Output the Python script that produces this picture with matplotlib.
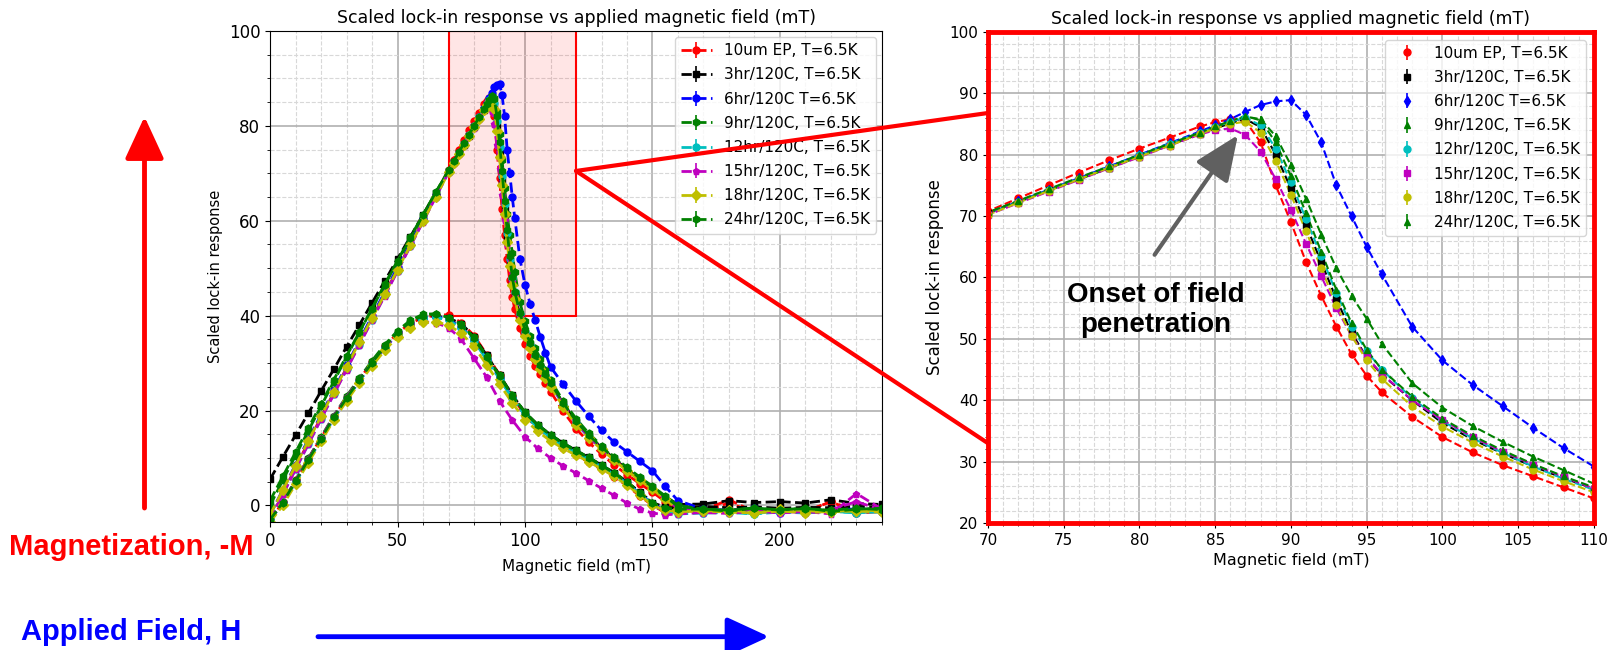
import matplotlib.pyplot as plt
from matplotlib.patches import Rectangle, ConnectionPatch
from matplotlib.ticker import MultipleLocator

# sample labels and classic matplotlib colours
labels = ['10um EP, T=6.5K', '3hr/120C, T=6.5K', '6hr/120C T=6.5K', '9hr/120C, T=6.5K',
          '12hr/120C, T=6.5K', '15hr/120C, T=6.5K', '18hr/120C, T=6.5K', '24hr/120C, T=6.5K']
colors = ['r', 'k', 'b', 'g', 'c', 'm', 'y', 'g']
markers_left = ['o', 's', 'o', 'h', 'o', 'p', 'D', 'h']
markers_right = ['o', 's', 'd', '^', 'o', 's', 'o', '^']

# field sweep up (mT)
field_up = [0, 5, 10, 15, 20, 25, 30, 35, 40, 45, 50, 55, 60, 65,
            70, 72, 74, 76, 78, 80, 82, 84,
            85, 86, 87, 88, 89, 90, 91, 92, 93, 94, 95, 96,
            98, 100, 102, 104, 106, 108, 110,
            115, 120, 125, 130, 135, 140, 145, 150, 155, 160,
            170, 180, 190, 200, 210, 220, 230, 240]
# second sweep
field_down = [0, 5, 10, 15, 20, 25, 30, 35, 40, 45, 50, 55, 60, 65, 70, 75, 80, 85,
              90, 95, 100, 105, 110, 115, 120, 125, 130, 135, 140, 145, 150, 155, 160,
              170, 180, 190, 200, 210, 220, 230, 240]

ep10_up = [-3, 2.5, 8, 13.3, 18.6, 23.8, 29, 34.2, 39.4, 44.6, 49.8, 55, 60.2, 65.5,
           70.8, 72.9, 75, 77.1, 79.1, 81, 82.8, 84.6,
           85.3, 85.8, 85.5, 82, 75, 69, 62.5, 57, 52, 47.5, 44, 41.3,
           37.3, 34, 31.5, 29.4, 27.6, 25.8, 24,
           19.8, 16.2, 13.3, 10.8, 8.5, 6.5, 4.6, 2.8, 0.8, -1,
           -1.2, 0.5, -1.5, -0.8, -1.3, 0.8, -1.5, -1.2]
hr3_up = [5.5, 10.2, 14.8, 19.4, 24.1, 28.7, 33.4, 38, 42.7, 47.3, 52, 56.6, 61.3, 65.9,
          70.5, 72.3, 74.2, 76, 77.9, 79.8, 81.6, 83.4,
          84.3, 85.1, 85.8, 84.5, 80, 74.5, 68.5, 62.5, 56.5, 51, 47, 44.2,
          40, 36.3, 33.6, 31.3, 29.2, 27.3, 25.6,
          21.5, 17.5, 14.6, 12.2, 9.8, 7.6, 5.6, 3.8, 1.8, 0.2,
          0.3, 1, 0.6, 0.8, 0.5, 1.2, 0.4, 0.2]
hr6_up = [-2, 3.3, 8.6, 13.9, 19.1, 24.3, 29.5, 34.7, 39.9, 45, 50.2, 55.3, 60.4, 65.4,
          70.4, 72.4, 74.3, 76.2, 78.1, 80, 81.9, 83.8,
          84.8, 85.8, 87, 88.1, 88.7, 88.9, 86.5, 82, 75, 70, 65, 60.5,
          52, 46.5, 42.5, 39, 35.5, 32.2, 29.2,
          25.5, 22, 18.8, 15.8, 13.3, 11.3, 9.3, 7.3, 4, 1,
          -0.8, -1, -0.6, -1.2, -0.9, -1.1, -0.7, -1]
hr9_up = [0, 5.3, 10.5, 15.7, 20.9, 26.1, 31.3, 36.4, 41.5, 46.6, 51.6, 56.5, 61.3, 66,
          70.6, 72.4, 74.2, 76, 77.8, 79.7, 81.6, 83.5,
          84.5, 85.4, 86.2, 85.8, 83, 78.3, 72.8, 67, 61.5, 57, 53.3, 49.2,
          42.8, 38.8, 35.8, 33.2, 30.8, 28.6, 26.4,
          22, 18.3, 15.2, 12.6, 10.2, 8, 6, 4, 2, 0,
          -0.8, -1, -0.5, -1.2, -0.8, -1, -1.3, -0.6]
hr12_up = [-3, 2.3, 7.6, 12.9, 18.2, 23.5, 28.7, 33.9, 39.1, 44.3, 49.5, 54.7, 59.9, 65.1,
           70.3, 72.3, 74.2, 76.1, 78, 79.9, 81.8, 83.6,
           84.5, 85.4, 86, 84.8, 81, 75.5, 69.5, 63.5, 57.5, 52, 48, 45,
           40.3, 36.6, 33.8, 31.4, 29.2, 27.2, 25.4,
           21.2, 17.3, 14.4, 12, 9.7, 7.5, 5.5, 3.6, 1.5, -0.5,
           -1.5, -1.2, -1.8, -1, -1.4, -1.2, -1.6, -1.1]
hr15_up = [-3, 2.3, 7.6, 12.9, 18.2, 23.4, 28.6, 33.8, 39, 44.2, 49.4, 54.6, 59.8, 65,
           70.2, 72.1, 74, 75.9, 77.8, 79.6, 81.5, 83.3,
           84, 84.3, 83.2, 80.5, 76, 71, 65.5, 60.2, 55, 50.5, 47, 44.3,
           40, 36.8, 34, 31.6, 29.5, 27.5, 25.6,
           21.3, 17.4, 14.5, 12, 9.6, 7.4, 5.4, 3.5, 1.4, -0.6,
           -1, -1.4, -0.8, -1.2, -1.5, -0.9, 0.8, -1]
hr18_up = [-2, 3.2, 8.4, 13.6, 18.8, 24, 29.2, 34.4, 39.5, 44.6, 49.7, 54.8, 59.9, 65,
           70.2, 72.2, 74.1, 76, 77.9, 79.7, 81.5, 83.4,
           84.3, 85, 85.4, 83.6, 79, 73.5, 67.5, 61.5, 55.5, 50.5, 46.5, 43.5,
           39, 35.7, 33.1, 30.8, 28.7, 26.8, 25,
           20.8, 17, 14.2, 11.8, 9.5, 7.3, 5.3, 3.4, 1.3, -0.8,
           -1.2, -1, -1.5, -0.8, -1.1, -1.4, -0.9, -1.2]
hr24_up = [1, 6.1, 11.2, 16.3, 21.4, 26.5, 31.5, 36.5, 41.5, 46.5, 51.4, 56.3, 61.2, 66,
           70.6, 72.5, 74.4, 76.3, 78.1, 80, 81.8, 83.6,
           84.6, 85.5, 86.3, 85.6, 82, 76.5, 70.5, 64.2, 58, 52.6, 48.2, 45,
           40.6, 37, 34.2, 31.8, 29.6, 27.6, 25.8,
           21.6, 17.8, 14.8, 12.3, 10, 7.8, 5.8, 3.9, 1.8, -0.2,
           -0.8, -1.2, -0.6, -1, -0.5, -1.3, -0.8, -0.6]

ep10_down = [-3.5, 0.8, 5.3, 9.8, 14.2, 18.6, 22.7, 26.5, 30.2, 33.5, 36.3, 38.4, 39.6, 40.1, 40.2,
             38.5, 35.8, 31.8, 27.5, 23, 19, 16.2, 14, 12.2, 10.6, 9.1, 7.6, 6, 4.2, 2, 0, -1.5, -1.3,
             -1, 1.2, -1.4, -1.2, -1.5, 1, -1.6, -1.3]
hr3_down = [-3, 0.6, 5.1, 9.6, 14.1, 18.6, 22.6, 26.4, 30.1, 33.4, 36.3, 38.4, 39.6, 39.9, 39.5,
            38.3, 35.6, 31.6, 27.5, 23.3, 19.6, 17, 14.9, 13.1, 11.6, 10.1, 8.5, 6.9, 5, 2.8, 0.6, -0.4, -0.6,
            -0.2, -0.5, -0.3, -0.6, -0.4, -0.5, -0.2, -0.4]
hr6_down = [-3, 0.5, 5, 9.4, 13.9, 18.3, 22.4, 26.2, 29.9, 33.2, 36.1, 38.2, 39.5, 39.8, 39.2,
            37.6, 34.8, 30.8, 26.8, 22.7, 19.1, 16.5, 14.4, 12.7, 11.2, 9.8, 8.2, 6.6, 4.7, 2.5, 0.3, -1, -1.3,
            -1.2, -1.4, -1.1, -1.5, -1.2, -1.3, -1, -1.4]
hr9_down = [-3, 0.7, 5.3, 9.9, 14.4, 18.9, 23, 26.8, 30.5, 33.9, 36.8, 39, 40.3, 40.4, 39.6,
            38.2, 35.4, 31.4, 27.4, 23.3, 19.6, 17, 14.9, 13.1, 11.6, 10.1, 8.5, 6.8, 4.9, 2.7, 0.5, -0.7, -1,
            -1, -1.2, -0.9, -1.3, -1, -1.1, -1.2, -0.9]
hr12_down = [-3, 0.4, 4.9, 9.4, 13.9, 18.4, 22.4, 26.2, 29.9, 33.2, 36.1, 38.2, 39.4, 39.7, 39,
             37.5, 34.7, 30.7, 26.7, 22.6, 19, 16.4, 14.3, 12.6, 11.1, 9.7, 8.1, 6.5, 4.6, 2.4, 0.2, -1.4, -1.8,
             -1.6, -1.5, -1.8, -1.4, -1.6, -1.3, -1.5, -1.4]
hr15_down = [-3, 0.6, 5.2, 9.8, 14.3, 18.8, 22.8, 26.5, 30.1, 33.3, 36.1, 38, 38.7, 38.5, 37.5,
             35, 31, 27, 22, 18, 14.5, 12, 10, 8.3, 6.8, 5.2, 3.6, 2.1, 0.5, -0.8, -1.6, -2, -1.8,
             -1.5, -1.7, -1.2, -1.6, -1.3, -1.8, 2.5, -0.8]
hr18_down = [-3.5, 0, 4.5, 9, 13.5, 18, 22, 25.8, 29.4, 32.7, 35.5, 37.5, 38.6, 38.7, 38,
             36.3, 33.5, 29.6, 25.6, 21.6, 18.1, 15.6, 13.6, 12, 10.6, 9.2, 7.7, 6.1, 4.3, 2.2, 0, -1, -1.3,
             -1.2, -1.4, -1.6, -1.2, -1.5, -1.3, -1.2, -1.4]
hr24_down = [-3, 0.6, 5.1, 9.6, 14.1, 18.6, 22.6, 26.4, 30.1, 33.5, 36.5, 38.7, 40, 40.3, 39.6,
             38, 35.2, 31.2, 27.2, 23.1, 19.5, 16.9, 14.8, 13, 11.5, 10, 8.4, 6.8, 4.9, 2.7, 0.5, -0.6, -0.8,
             -0.8, -1, -0.6, -0.9, -0.7, -1, -0.6, -0.9]

ups = [ep10_up, hr3_up, hr6_up, hr9_up, hr12_up, hr15_up, hr18_up, hr24_up]
downs = [ep10_down, hr3_down, hr6_down, hr9_down, hr12_down, hr15_down, hr18_down, hr24_down]

fig = plt.figure(figsize=(16.18, 6.5), dpi=100)
ax1 = fig.add_axes([0.1669, 0.1969, 0.3782, 0.7554])
ax2 = fig.add_axes([0.6106, 0.1954, 0.3745, 0.7554])

# left: full sweep
for lab, c, mk, yu, yd in zip(labels, colors, markers_left, ups, downs):
    ax1.errorbar(field_up, yu, yerr=0.6, fmt='--', marker=mk, color=c, ms=5, lw=2,
                 elinewidth=1.2, label=lab)
    ax1.errorbar(field_down, yd, yerr=0.6, fmt='--', marker=mk, color=c, ms=5, lw=2,
                 elinewidth=1.2)

ax1.add_patch(Rectangle((70, 40), 50, 60, facecolor=(1, 0, 0, 0.1), edgecolor='red',
                        lw=1.5, zorder=1.5))
ax1.set_xlim(0, 240)
ax1.set_ylim(-3.5, 100)
ax1.xaxis.set_major_locator(MultipleLocator(50))
ax1.xaxis.set_minor_locator(MultipleLocator(10))
ax1.yaxis.set_major_locator(MultipleLocator(20))
ax1.yaxis.set_minor_locator(MultipleLocator(5))
ax1.set_title('Scaled lock-in response vs applied magnetic field (mT)', fontsize=12.5)
ax1.set_xlabel('Magnetic field (mT)', fontsize=11, labelpad=7)
ax1.set_ylabel('Scaled lock-in response', fontsize=10.5)
ax1.legend(loc='upper right', fontsize=11, labelspacing=0.6, handlelength=2,
           borderaxespad=0.4)
ax1.tick_params(labelsize=12)

# right: zoom on the peak
for lab, c, mk, yu in zip(labels, colors, markers_right, ups):
    ax2.plot(field_up, yu, '--', color=c, lw=1.5)
    ax2.errorbar(field_up, yu, yerr=0.5, fmt=mk, color=c, ms=5, elinewidth=1.2, label=lab)

ax2.set_xlim(70, 110)
ax2.set_ylim(20, 100)
ax2.xaxis.set_major_locator(MultipleLocator(5))
ax2.xaxis.set_minor_locator(MultipleLocator(1))
ax2.yaxis.set_major_locator(MultipleLocator(10))
ax2.yaxis.set_minor_locator(MultipleLocator(2))
ax2.set_title('Scaled lock-in response vs applied magnetic field (mT)', fontsize=12.5)
ax2.set_xlabel('Magnetic field (mT)', fontsize=11.5)
ax2.set_ylabel('Scaled lock-in response', fontsize=12)
ax2.legend(loc='upper right', fontsize=11, labelspacing=0.6, handlelength=2)
ax2.tick_params(labelsize=11)
for s in ax2.spines.values():
    s.set_color('red')
    s.set_linewidth(3.5)

ax2.annotate('', xy=(86.5, 83.2), xytext=(81, 63.7),
             arrowprops=dict(arrowstyle='-|>,head_length=1.4,head_width=0.6', color='#606060',
                             lw=3, mutation_scale=20, shrinkA=0, shrinkB=0))
ax2.text(81.1, 54.7, 'Onset of field\npenetration', ha='center', va='center', fontsize=20,
         fontweight='bold', family=['Liberation Sans', 'DejaVu Sans'], linespacing=1.2)

for ax in (ax1, ax2):
    ax.grid(which='major', color='#b0b0b0', lw=1.2)
    ax.grid(which='minor', color='#d8d8d8', ls='--', lw=0.8)
    ax.set_axisbelow(True)

# zoom connectors
for yb in (86.8, 33.0):
    con = ConnectionPatch(xyA=(120, 70.5), coordsA='data', axesA=ax1,
                          xyB=(70, yb), coordsB='data', axesB=ax2, color='red', lw=3)
    fig.add_artist(con)

# side annotations
side_font = ['Liberation Sans', 'DejaVu Sans']
fig.text(131.6 / 1618, 1 - 547 / 650, 'Magnetization, -M', color='red', fontsize=21,
         fontweight='bold', family=side_font, ha='center', va='center')
fig.text(131.6 / 1618, 1 - 632.5 / 650, 'Applied Field, H', color='blue', fontsize=21,
         fontweight='bold', family=side_font, ha='center', va='center')
ax1.annotate('', xy=(144.5, 650 - 116.6), xytext=(144.5, 650 - 508), xycoords='figure pixels',
             textcoords='figure pixels', annotation_clip=False,
             arrowprops=dict(arrowstyle='-|>,head_length=1.3,head_width=0.6', color='red',
                             lw=3.5, mutation_scale=20, shrinkA=0, shrinkB=0))
ax1.annotate('', xy=(769, 650 - 636.7), xytext=(318, 650 - 636.7), xycoords='figure pixels',
             textcoords='figure pixels', annotation_clip=False,
             arrowprops=dict(arrowstyle='-|>,head_length=1.3,head_width=0.6', color='blue',
                             lw=3.5, mutation_scale=20, shrinkA=0, shrinkB=0))

fig.savefig('out.png', dpi=100)
